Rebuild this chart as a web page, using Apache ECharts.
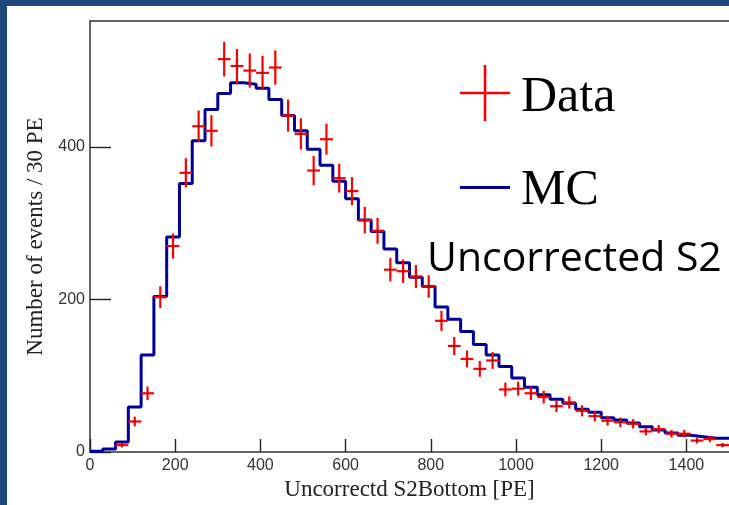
<!DOCTYPE html>
<html>
<head>
<meta charset="utf-8">
<script src="https://cdn.jsdelivr.net/npm/echarts@6/dist/echarts.min.js"></script>
<style>
  html, body { margin: 0; padding: 0; width: 729px; height: 505px; overflow: hidden; background: #1f497d; }
  #chart { position: absolute; left: 7px; top: 6px; width: 722px; height: 499px; background: #ffffff; }
</style>
</head>
<body>
<div id="chart"></div>
<script>
// Histogram binning: 30 PE per bin over 0–1500 PE
const BIN_WIDTH = 30;
const X_MIN = 0;
const X_MAX = 1500;
const Y_MAX = 565;

// Tick values shown on the axes
const xTickValues = [0, 200, 400, 600, 800, 1000, 1200, 1400];
const yTickValues = [0, 200, 400];

// Measured events per bin
const dataCounts = [
  0, 0, 9, 40, 77, 203, 270, 366, 427, 421,
  515, 506, 500, 497, 504, 441, 417, 369, 410, 359,
  342, 304, 290, 239, 237, 230, 217, 172, 139, 122,
  109, 120, 82, 83, 77, 72, 60, 65, 54, 47,
  41, 39, 37, 27, 30, 24, 24, 15, 17, 9
];

// Simulated events per bin
const mcCounts = [
  1, 4, 13, 59, 127, 204, 282, 352, 408, 449,
  470, 484, 482, 477, 462, 441, 421, 397, 376, 355,
  332, 304, 289, 266, 248, 229, 217, 190, 174, 158,
  141, 127, 112, 97, 85, 75, 69, 64, 56, 52,
  45, 42, 38, 33, 29, 25, 22, 20, 18, 18
];

const seriesNames = ['Data', 'MC'];
const annotation = 'Uncorrected S2';
const xTitle = 'Uncorrectd S2Bottom [PE]';
const yTitle = 'Number of events / 30 PE';

// Bin lower edges and centres
const binLow = mcCounts.map((_, i) => X_MIN + i * BIN_WIDTH);
const binCenter = binLow.map(x => x + BIN_WIDTH / 2);

// Step outline points: each bin's level starts at its lower edge, closing at X_MAX
const mcStep = binLow.map((x, i) => [x, mcCounts[i]]);
mcStep.push([X_MAX, mcCounts[mcCounts.length - 1]]);

const dataPoints = binCenter.map((x, i) => [x, dataCounts[i]]);

const RED = '#ff0000';
const BLUE = '#000099';
const AXIS = '#333333';
const SERIF = '"Liberation Serif", "DejaVu Serif", serif';
const SANS = '"Liberation Sans", Arial, sans-serif';

// Error-bar cross: horizontal bar spans the bin, vertical bar is the Poisson error
function renderCross(params, api) {
  const c = api.value(0);
  const n = api.value(1);
  if (!(n > 0)) return null;
  const err = Math.sqrt(n);
  const l = api.coord([c - BIN_WIDTH / 2, n]);
  const r = api.coord([c + BIN_WIDTH / 2, n]);
  const t = api.coord([c, n + err]);
  const b = api.coord([c, n - err]);
  const m = api.coord([c, n]);
  return {
    type: 'group',
    children: [
      { type: 'line', shape: { x1: l[0], y1: l[1], x2: r[0], y2: r[1] }, style: { stroke: RED, lineWidth: 2.2 } },
      { type: 'line', shape: { x1: t[0], y1: t[1], x2: b[0], y2: b[1] }, style: { stroke: RED, lineWidth: 2.2 } },
      { type: 'circle', shape: { cx: m[0], cy: m[1], r: 0.7 }, style: { fill: '#000' } }
    ]
  };
}

// Legend icons in a 56x68 box; the glyph sits in the upper part so the
// symbol rides slightly above the centre line of its label
const DOTS = ' M0,0h0.01v0.01h-0.01z M55.99,67.99h0.01v0.01h-0.01z';
const crossIcon = 'path://M0,27.7h50v2.6h-50z M23.7,1h2.6v56h-2.6z' + DOTS;
const lineIcon = 'path://M0,29h50v3h-50z' + DOTS;

const plainNumber = v => String(v);

const chart = echarts.init(document.getElementById('chart'), null, { renderer: 'canvas' });
chart.setOption({
  animation: false,
  backgroundColor: '#ffffff',
  title: {
    text: annotation,
    left: 420,
    top: 233,
    padding: 0,
    textStyle: { fontFamily: '"Open Sans", sans-serif', fontSize: 41, fontWeight: 'normal', color: '#000' }
  },
  legend: {
    orient: 'vertical',
    left: 453,
    top: 58,
    padding: 0,
    itemWidth: 56,
    itemHeight: 68,
    itemGap: 25,
    selectedMode: false,
    data: [
      { name: seriesNames[0], icon: crossIcon },
      { name: seriesNames[1], icon: lineIcon }
    ],
    textStyle: { fontFamily: SERIF, fontSize: 50, color: '#000' }
  },
  grid: { left: 83, right: 0, top: 15, bottom: 53, outerBoundsMode: 'none' },
  xAxis: [
    {
      type: 'value',
      min: X_MIN,
      max: X_MAX,
      interval: 200,
      name: xTitle,
      nameLocation: 'middle',
      nameGap: 23,
      nameTextStyle: { fontFamily: SERIF, fontSize: 23, color: '#222' },
      axisLine: { show: true, onZero: false, lineStyle: { color: AXIS, width: 1.5 } },
      axisTick: { show: true, inside: true, length: 13, customValues: xTickValues, lineStyle: { color: '#222', width: 1.4 } },
      axisLabel: { customValues: xTickValues, formatter: plainNumber, margin: 6, fontFamily: SANS, fontSize: 16, color: '#333' },
      splitLine: { show: false }
    },
    {
      type: 'value',
      position: 'top',
      min: X_MIN,
      max: X_MAX,
      axisLine: { show: true, onZero: false, lineStyle: { color: AXIS, width: 1.5 } },
      axisTick: { show: false },
      axisLabel: { show: false },
      splitLine: { show: false }
    }
  ],
  yAxis: {
    type: 'value',
    min: 0,
    max: Y_MAX,
    interval: 200,
    name: yTitle,
    nameLocation: 'middle',
    nameGap: 42,
    nameTextStyle: { fontFamily: SERIF, fontSize: 23, color: '#222' },
    axisLine: { show: true, onZero: false, lineStyle: { color: AXIS, width: 1.5 } },
    axisTick: { show: true, inside: true, length: 21, customValues: yTickValues, lineStyle: { color: '#222', width: 1.4 } },
    axisLabel: { customValues: yTickValues, formatter: plainNumber, margin: 5, fontFamily: SANS, fontSize: 16, color: '#333' },
    splitLine: { show: false }
  },
  series: [
    {
      name: seriesNames[0],
      type: 'custom',
      xAxisIndex: 0,
      renderItem: renderCross,
      encode: { x: 0, y: 1 },
      itemStyle: { color: RED },
      data: dataPoints,
      z: 3
    },
    {
      name: seriesNames[1],
      type: 'line',
      xAxisIndex: 0,
      step: 'end',
      symbol: 'none',
      data: mcStep,
      lineStyle: { color: BLUE, width: 3 },
      itemStyle: { color: BLUE },
      z: 2
    }
  ]
});
</script>
</body>
</html>
